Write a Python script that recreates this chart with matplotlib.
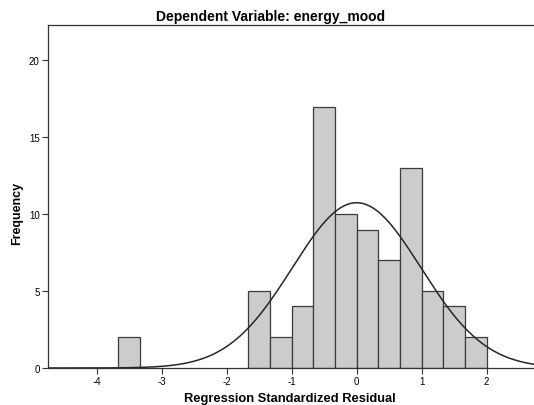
import numpy as np
import matplotlib
matplotlib.use("Agg")
import matplotlib.pyplot as plt

plt.rcParams['font.family'] = ['Liberation Sans', 'DejaVu Sans']
plt.rcParams['axes.unicode_minus'] = False

# histogram of residuals, bin width 1/3
bin_left = [-11/3, -5/3, -4/3, -1, -2/3, -1/3, 0, 1/3, 2/3, 1, 4/3, 5/3]
counts = [2, 5, 2, 4, 17, 10, 9, 7, 13, 5, 4, 2]
bin_width = 1/3

# normal curve parameters
res_mean = 0.0
res_std = 0.99
n_cases = sum(counts)

x_ticks = [-4, -3, -2, -1, 0, 1, 2]
y_ticks = [0, 5, 10, 15, 20]


def main():
    fig = plt.figure(figsize=(5.34, 4.06), dpi=100)
    ax = fig.add_axes([48/534, (406 - 369)/406, 1 - 48/534, (369 - 26)/406])

    ax.bar(bin_left, counts, width=bin_width, align='edge',
           color='#cccccc', edgecolor='#3c3c3c', linewidth=0.9, zorder=2)

    xs = np.linspace(-4.8, 3.0, 400)
    ys = n_cases * bin_width / (res_std * np.sqrt(2 * np.pi)) * \
        np.exp(-0.5 * ((xs - res_mean) / res_std) ** 2)
    ax.plot(xs, ys, color='#262626', linewidth=1.1, zorder=3)

    ax.set_xlim(-4.75, 2.73)
    ax.set_ylim(0, 22.3)
    ax.set_xticks(x_ticks)
    ax.set_yticks(y_ticks)
    ax.tick_params(labelsize=7, length=4, width=0.8, color='#333333', pad=2)
    for s in ['left', 'bottom', 'top']:
        ax.spines[s].set_color('#333333')
        ax.spines[s].set_linewidth(0.9)
    ax.spines['right'].set_visible(False)

    fig.text(271/534, 1 - 17/406, 'Dependent Variable: energy_mood',
             ha='center', va='center', fontsize=10, fontweight='bold')
    fig.text(290/534, 1 - 399/406, 'Regression Standardized Residual',
             ha='center', va='center', fontsize=9.3, fontweight='bold')
    fig.text(17/534, 1 - 213/406, 'Frequency', rotation=90,
             ha='center', va='center', fontsize=9, fontweight='bold')

    fig.savefig('out.png', dpi=100)


if __name__ == '__main__':
    main()
